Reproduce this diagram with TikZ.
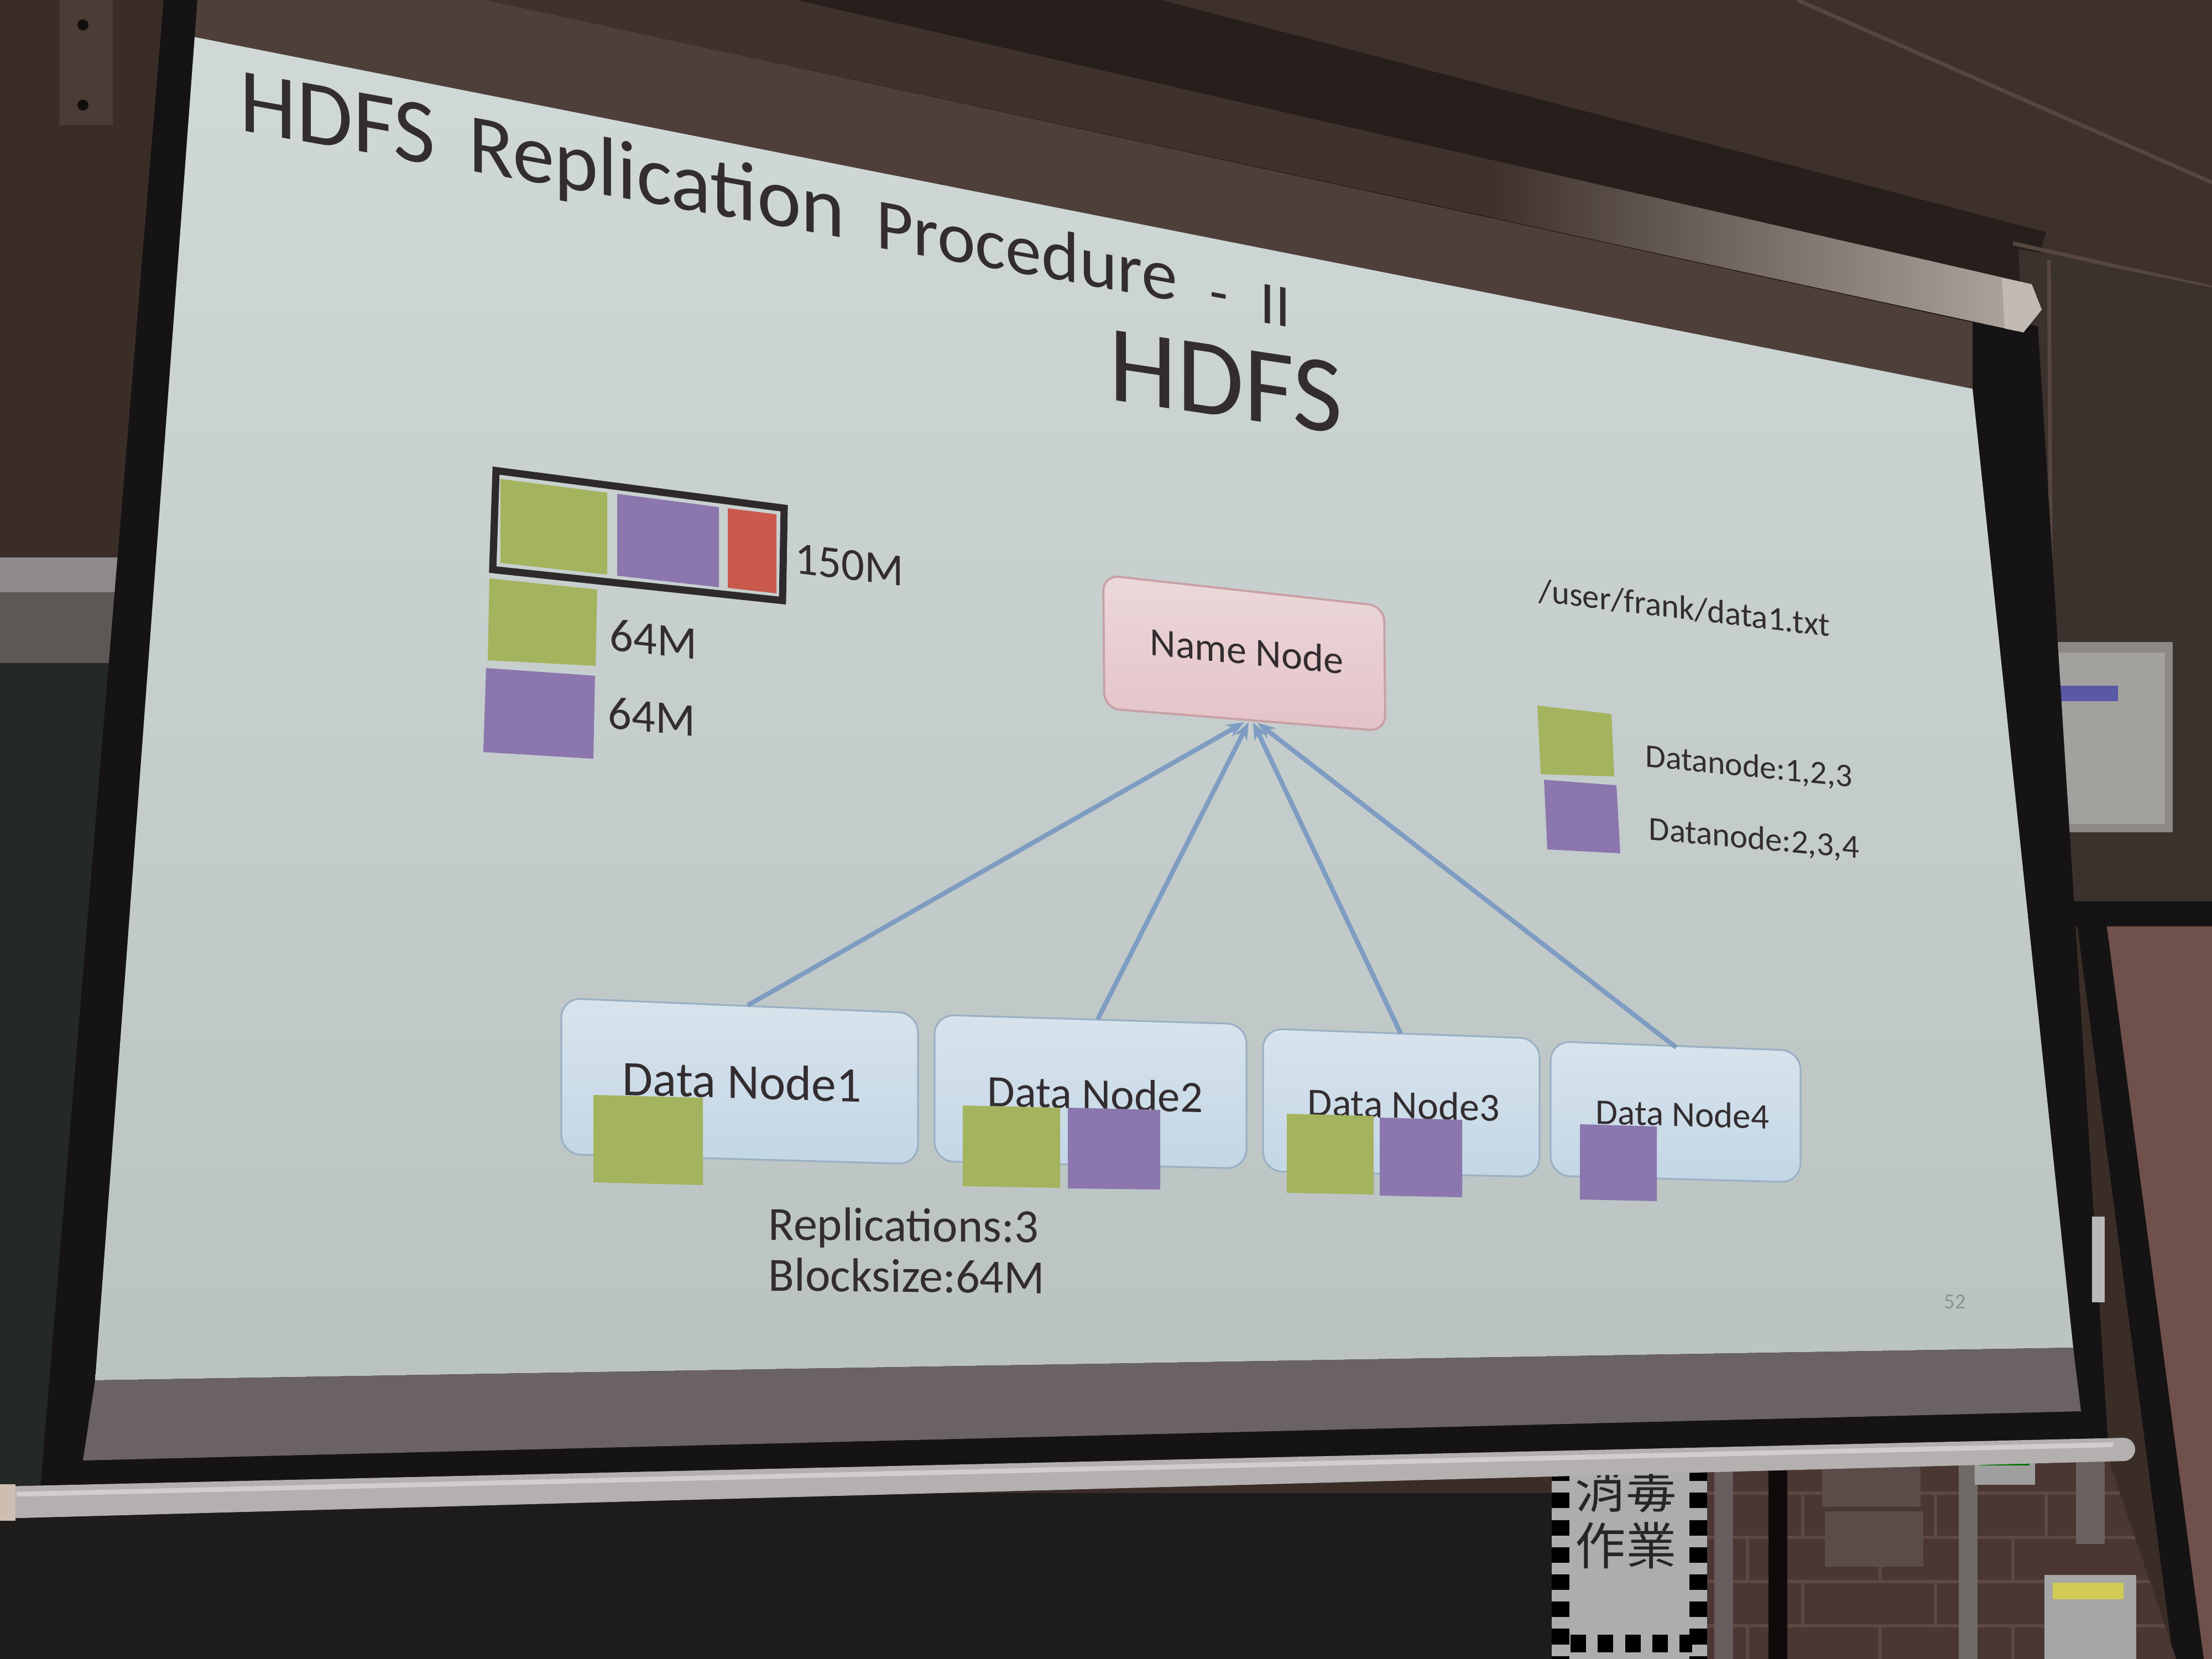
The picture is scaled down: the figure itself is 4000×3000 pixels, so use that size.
\documentclass[tikz,border=0pt]{standalone}
\usepackage{fontspec}
\setmainfont{Carlito}
\newfontfamily\cjkfont{Noto Sans CJK TC}
\usetikzlibrary{arrows.meta}
\newcommand{\fsz}[1]{\fontsize{#1}{#1}\selectfont}

% room
\definecolor{wallcol}{HTML}{3A2D28}
\definecolor{ceilcol}{HTML}{3E302B}
\definecolor{ceilline}{HTML}{55463F}
\definecolor{darkgap}{HTML}{271F1C}
\definecolor{housingdark}{HTML}{3F322D}
\definecolor{housinglight}{HTML}{B3AAA3}
\definecolor{bracketcol}{HTML}{4B3C35}
\definecolor{boardcol}{HTML}{242827}
\definecolor{stripA}{HTML}{8E8A89}
\definecolor{stripB}{HTML}{5D5856}
\definecolor{undercol}{HTML}{1D1C1B}
\definecolor{brickcol}{HTML}{4A3632}
\definecolor{mortar}{HTML}{5E4843}
\definecolor{doorcol}{HTML}{70504A}
\definecolor{cabcol}{HTML}{3B312D}
\definecolor{boxcol}{HTML}{8C8984}
% screen
\definecolor{screenblack}{HTML}{151314}
\definecolor{clothcol}{HTML}{4F3F3B}
\definecolor{littop}{HTML}{D0D9D7}
\definecolor{litbot}{HTML}{BAC3C2}
\definecolor{bandcol}{HTML}{6B6263}
\definecolor{rodcol}{HTML}{B4B0B0}
\definecolor{rodhi}{HTML}{D2CECE}
% slide
\definecolor{inkcol}{HTML}{332D30}
\definecolor{pagecol}{HTML}{8A9292}
\definecolor{blkgreen}{HTML}{A4B35E}
\definecolor{blkpurple}{HTML}{8B76AE}
\definecolor{blkred}{HTML}{C95A4C}
\definecolor{framecol}{HTML}{2E2A2B}
\definecolor{nntop}{HTML}{ECD8DA}
\definecolor{nnbot}{HTML}{E4C3C7}
\definecolor{nnedge}{HTML}{C8A0A6}
\definecolor{dntop}{HTML}{D8E4EC}
\definecolor{dnbot}{HTML}{C3D6E5}
\definecolor{dnedge}{HTML}{9AB0C4}
\definecolor{linkcol}{HTML}{7F9CC2}

\tikzset{
  txt/.style={inner sep=0pt, anchor=base west, text=inkcol},
  gblock/.style={fill=blkgreen},
  pblock/.style={fill=blkpurple},
  rblock/.style={fill=blkred},
  dnbox/.style={draw=dnedge, line width=0.9pt, rounded corners=10pt,
                top color=dntop, bottom color=dnbot},
  nnbox/.style={draw=nnedge, line width=1.1pt, rounded corners=8pt,
                top color=nntop, bottom color=nnbot},
  link/.style={draw=linkcol, line width=2.4pt,
               -{Stealth[length=9pt,width=7pt]}},
}

\begin{document}
\begin{tikzpicture}[x=0.01cm,y=-0.01cm]
\useasboundingbox (0,0) rectangle (4000,3000);

% ---------- room behind the screen ----------
\fill[wallcol] (0,0) rectangle (4000,3000);
% left wall: bracket, board edge and board
\fill[bracketcol] (107,0) rectangle (204,226);
\fill[black!70!wallcol] (150,45) circle[radius=10];
\fill[black!70!wallcol] (150,190) circle[radius=10];
\fill[stripA] (0,1008) rectangle (400,1071);
\fill[stripB] (0,1071) rectangle (400,1199);
\fill[boardcol] (0,1199) rectangle (400,2760);
% ceiling on the right
\fill[ceilcol] (1439,0) -- (4000,0) -- (4000,600) -- (3674,514) -- cycle;
\fill[darkgap] (1439,0) -- (2100,0) -- (3700,420) -- (3674,514) -- cycle;
\draw[ceilline, line width=2pt] (3250,0) -- (4000,330);
\draw[ceilline, line width=2pt] (3640,440) -- (4000,520);
% cabinet and wall box right of the screen
\fill[cabcol] (3650,450) -- (4000,520) -- (4000,1640) -- (3700,1640) -- cycle;
\draw[ceilline, line width=2pt] (3705,470) -- (3712,1600);
\fill[boxcol] (3686,1161) rectangle (3929,1505);
\fill[boxcol!80!white] (3700,1180) rectangle (3915,1490);
\fill[blue!30!gray] (3715,1240) rectangle (3830,1268);
% door frame and door
\fill[doorcol] (3780,1640) -- (4000,1640) -- (4000,3000) -- (3960,3000) -- cycle;
\fill[screenblack] (3740,1630) -- (4000,1630) -- (4000,1675) -- (3745,1675) -- cycle;
\fill[screenblack] (3752,1640) -- (3805,1640) -- (3985,3000) -- (3930,3000) -- cycle;
% under the rod: dark board, poster, brick wall
\fill[undercol] (0,2700) rectangle (2810,3000);
\fill[brickcol] (3087,2600) -- (3800,2600) -- (3935,3000) -- (3087,3000) -- cycle;
\begin{scope}
  \clip (3087,2600) -- (3800,2600) -- (3935,3000) -- (3087,3000) -- cycle;
  \foreach \yy in {2700,2780,2860,2940}
    \draw[mortar, line width=1.5pt] (3087,\yy) -- (3950,\yy);
  \foreach \xx/\yy in {3260/2700,3500/2700,3700/2700,3160/2780,3400/2780,3640/2780,
                       3260/2860,3500/2860,3700/2860,3160/2940,3400/2940,3640/2940}
    \draw[mortar, line width=1.5pt] (\xx,\yy) -- (\xx,\yy+80);
\end{scope}
\fill[gray!55!brickcol] (3100,2630) rectangle (3134,3000);
\fill[black!80!brickcol] (3198,2630) rectangle (3232,3000);
\fill[brickcol!70!gray] (3295,2634) rectangle (3473,2725);
\fill[brickcol!70!gray] (3300,2733) rectangle (3478,2833);
\fill[gray!70!brickcol] (3542,2630) rectangle (3576,3000);
\fill[gray!75] (3571,2628) rectangle (3680,2685);
\fill[green!45!black] (3580,2640) rectangle (3670,2650);
\fill[gray!60!brickcol] (3754,2623) rectangle (3806,2792);
\fill[gray!70] (3697,2848) rectangle (3863,3000);
\fill[yellow!60!gray] (3712,2862) rectangle (3840,2892);
% poster with warning-tape edges
\fill[gray!40!white!85!black] (2806,2640) rectangle (3087,3000);
\draw[black, line width=9pt, dash pattern=on 8pt off 6pt] (2822,2650) -- (2822,3000);
\draw[black, line width=9pt, dash pattern=on 8pt off 6pt] (3071,2650) -- (3071,3000);
\draw[black, line width=9pt, dash pattern=on 8pt off 6pt] (2840,2972) -- (3060,2972);
\node[inner sep=0pt, anchor=north west, text=black!85, font=\cjkfont\fsz{26}] (poster1) at (2848,2650) {消毒};
\node[inner sep=0pt, anchor=north west, text=black!85, font=\cjkfont\fsz{26}] (poster2) at (2848,2752) {作業};

% ---------- projection screen ----------
\fill[screenblack] (296,0) -- (905,0) -- (3685,590) -- (3812,2610) -- (72,2705) -- cycle;
% roller housing, lit only towards its right end
\fill[housingdark] (878,0) -- (1439,0) -- (3674,514) -- (3692,560) -- (3659,601) -- cycle;
\shade[left color=housingdark, right color=housinglight]
  (2700,290) -- (3674,514) -- (3692,560) -- (3659,601) -- (2700,394) -- cycle;
\fill[housinglight!80!white] (3620,503) -- (3674,514) -- (3692,560) -- (3659,601) -- (3625,594) -- cycle;
% unlit cloth above the picture
\fill[clothcol] (357,0) -- (878,0) -- (3567,583) -- (3567,703) -- (352,67) -- cycle;
% lit picture area
\shade[top color=littop, bottom color=litbot]
  (352,67) -- (3567,703) -- (3749,2437) -- (172,2496) -- cycle;
% unlit strip below the picture
\fill[bandcol] (172,2496) -- (3749,2437) -- (3763,2552) -- (150,2641) -- cycle;
\fill[gray!55] (3783,2200) rectangle (3806,2355);
% bottom rod
\fill[rodcol] (0,2688) -- (3840,2600) -- (3840,2642) -- (0,2746) -- cycle;
\draw[rodhi, line width=2.5pt] (30,2702) -- (3840,2612);
\fill[rodcol] (3840,2621) circle[radius=21];
\fill[rodhi!80!brown] (0,2684) rectangle (28,2750);

% ---------- slide: title ----------
\node[txt, yslant=-0.18, font=\fsz{47}] (title1) at (433,235) {HDFS};
\node[txt, yslant=-0.18, font=\fsz{43}] (title2) at (847,308) {Replication};
\node[txt, yslant=-0.18, font=\fsz{37}] (title3) at (1584,447) {Procedure};
\node[txt, yslant=-0.18, font=\fsz{31}] (title4) at (2187,562) {-};
\node[txt, yslant=-0.18, font=\fsz{31}] (title5) at (2278,582) {II};
\node[txt, yslant=-0.15, font=\fsz{56}] (subtitle) at (2005,722) {HDFS};

% ---------- file of 150M split into blocks ----------
\fill[gblock] (905,866) -- (1098,891) -- (1098,1039) -- (905,1018) -- cycle;
\fill[pblock] (1116,893) -- (1300,917) -- (1300,1062) -- (1116,1041) -- cycle;
\fill[rblock] (1316,919) -- (1404,930) -- (1404,1073) -- (1316,1063) -- cycle;
\draw[framecol, line width=3.7pt, line join=miter]
  (897,851) -- (1418,919) -- (1415,1086) -- (891,1030) -- cycle;
\node[txt, yslant=-0.12, font=\fsz{23.5}] (size150) at (1437,1036) {150M};
\fill[gblock] (885,1046) -- (1080,1066) -- (1077,1204) -- (882,1194) -- cycle;
\fill[pblock] (879,1208) -- (1076,1222) -- (1073,1372) -- (874,1360) -- cycle;
\node[txt, yslant=-0.11, font=\fsz{24}] (size64a) at (1102,1175) {64M};
\node[txt, yslant=-0.10, font=\fsz{24}] (size64b) at (1099,1316) {64M};

% ---------- name node ----------
\path[nnbox] (1995,1040) -- (2503,1096) -- (2505,1322) -- (1997,1281) -- cycle;
\node[txt, yslant=-0.10, font=\fsz{20.5}] (namenode) at (2079,1184) {Name Node};
\coordinate (nnb1) at (2250,1306);
\coordinate (nnb2) at (2258,1306);
\coordinate (nnb3) at (2266,1306);
\coordinate (nnb4) at (2274,1307);

% ---------- file path and block legend ----------
\node[txt, yslant=-0.12, font=\fsz{17.3}] (filepath) at (2782,1088) {/user/frank/data1.txt};
\fill[gblock] (2780,1276) -- (2914,1291) -- (2919,1404) -- (2786,1400) -- cycle;
\fill[pblock] (2792,1410) -- (2923,1420) -- (2930,1543) -- (2798,1536) -- cycle;
\node[txt, yslant=-0.10, font=\fsz{17}] (legend1) at (2975,1386) {Datanode:1,2,3};
\node[txt, yslant=-0.09, font=\fsz{17.3}] (legend2) at (2981,1518) {Datanode:2,3,4};

% ---------- data nodes ----------
\path[dnbox] (1015,1805) -- (1660,1832) -- (1660,2105) -- (1015,2087) -- cycle;
\path[dnbox] (1690,1835) -- (2254,1852) -- (2254,2113) -- (1690,2100) -- cycle;
\path[dnbox] (2284,1860) -- (2784,1878) -- (2784,2128) -- (2284,2118) -- cycle;
\path[dnbox] (2804,1883) -- (3256,1900) -- (3256,2138) -- (2804,2126) -- cycle;
\coordinate (dn1t) at (1352,1818);
\coordinate (dn2t) at (1985,1843);
\coordinate (dn3t) at (2533,1869);
\coordinate (dn4t) at (3031,1894);
\node[txt, yslant=-0.03, font=\fsz{25.5}] (dn1) at (1125,1980) {Data Node1};
\node[txt, yslant=-0.03, font=\fsz{23}] (dn2) at (1785,2000) {Data Node2};
\node[txt, yslant=-0.03, font=\fsz{20.5}] (dn3) at (2364,2017) {Data Node3};
\node[txt, yslant=-0.03, font=\fsz{18.5}] (dn4) at (2885,2032) {Data Node4};
% stored blocks
\fill[gblock] (1073,1980) -- (1271,1985) -- (1271,2143) -- (1073,2138) -- cycle;
\fill[gblock] (1741,1999) -- (1917,2003) -- (1917,2148) -- (1741,2145) -- cycle;
\fill[pblock] (1931,2003) -- (2098,2007) -- (2098,2151) -- (1931,2149) -- cycle;
\fill[gblock] (2327,2014) -- (2484,2018) -- (2484,2160) -- (2327,2157) -- cycle;
\fill[pblock] (2495,2021) -- (2644,2025) -- (2644,2165) -- (2495,2162) -- cycle;
\fill[pblock] (2857,2033) -- (2996,2037) -- (2996,2172) -- (2857,2169) -- cycle;

% ---------- connectors ----------
\draw[link] (dn1t) -- (nnb1);
\draw[link] (dn2t) -- (nnb2);
\draw[link] (dn3t) -- (nnb3);
\draw[link] (dn4t) -- (nnb4);

% ---------- settings and page number ----------
\node[txt, yslant=-0.01, font=\fsz{24.5}] (repl) at (1389,2242) {Replications:3};
\node[txt, yslant=-0.01, font=\fsz{24.5}] (bsize) at (1389,2334) {Blocksize:64M};
\node[txt, text=pagecol, font=\fsz{11}] (pagenum) at (3515,2366) {52};
\end{tikzpicture}
\end{document}
